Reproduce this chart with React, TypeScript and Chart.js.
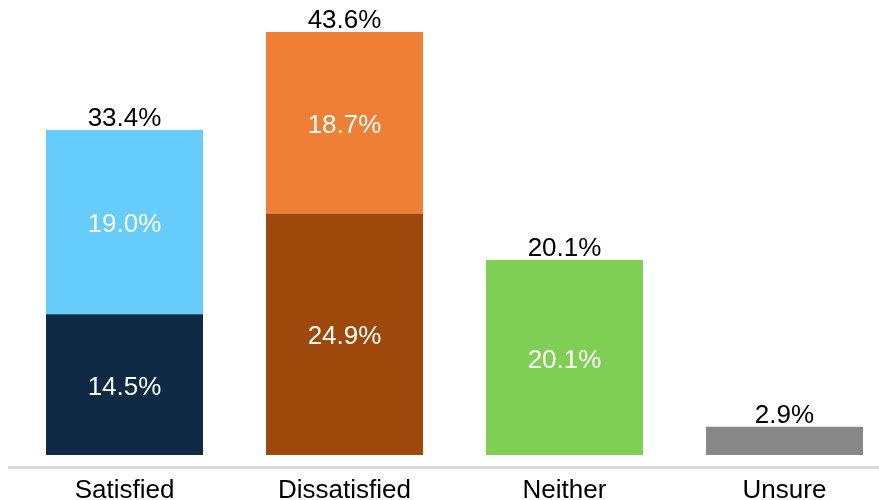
import React, { useEffect, useRef } from "react";
import { Chart, registerables } from "chart.js";

Chart.register(...registerables);

const categories = ["Satisfied", "Dissatisfied", "Neither", "Unsure"];
const lowerValues = [14.5, 24.9, 20.1, 2.9];
const upperValues: (number | null)[] = [19.0, 18.7, null, null];
const totals = [33.4, 43.6, 20.1, 2.9];
const lowerColors = ["#0e2a44", "#9e480c", "#80cf55", "#888888"];
const upperColors = ["#66ccfc", "#ee7f35", "#80cf55", "#888888"];

const FONT = "'Liberation Sans', Arial, Helvetica, sans-serif";
const FONT_SIZE = 26;

const labelPlugin = {
  id: "labels",
  afterDatasetsDraw(chart: any) {
    const ctx = chart.ctx;
    ctx.save();
    ctx.font = `${FONT_SIZE}px ${FONT}`;
    ctx.textAlign = "center";
    chart.data.datasets.forEach((ds: any, di: number) => {
      const meta = chart.getDatasetMeta(di);
      meta.data.forEach((bar: any, i: number) => {
        const v = ds.data[i];
        if (v == null || v < 5) return;
        const cy = (bar.y + bar.base) / 2;
        ctx.fillStyle = "#ffffff";
        ctx.textBaseline = "middle";
        ctx.fillText(`${v.toFixed(1)}%`, bar.x, cy + 3);
      });
    });
    const topMeta = chart.getDatasetMeta(1);
    const lowMeta = chart.getDatasetMeta(0);
    totals.forEach((t, i) => {
      const upper = upperValues[i];
      const bar = upper != null ? topMeta.data[i] : lowMeta.data[i];
      ctx.fillStyle = "#000000";
      ctx.textBaseline = "alphabetic";
      ctx.fillText(`${t.toFixed(1)}%`, bar.x, bar.y - 4);
    });
    ctx.restore();
  },
};

const axisLinePlugin = {
  id: "axisLine",
  beforeDatasetsDraw(chart: any) {
    const ctx = chart.ctx;
    const y = chart.chartArea.bottom;
    ctx.save();
    ctx.strokeStyle = "#dcdcdc";
    ctx.lineWidth = 3;
    ctx.beginPath();
    ctx.moveTo(0, y);
    ctx.lineTo(chart.width, y);
    ctx.stroke();
    ctx.restore();
  },
};

export default function App() {
  const ref = useRef<HTMLCanvasElement | null>(null);
  useEffect(() => {
    if (!ref.current) return;
    const chart = new Chart(ref.current, {
      type: "bar",
      data: {
        labels: categories,
        datasets: [
          {
            label: "Lower",
            data: lowerValues,
            backgroundColor: lowerColors,
            borderWidth: 0,
          },
          {
            label: "Upper",
            data: upperValues,
            backgroundColor: upperColors,
            borderWidth: 0,
          },
        ],
      },
      options: {
        responsive: false,
        animation: false,
        maintainAspectRatio: false,
        layout: { padding: { left: 6.5, right: 13.5, top: 0, bottom: 0 } },
        plugins: {
          legend: { display: false },
          tooltip: { enabled: false },
        },
        datasets: {
          bar: { categoryPercentage: 1, barPercentage: 157 / 220 },
        },
        scales: {
          x: {
            stacked: true,
            grid: { display: false, drawTicks: false },
            border: { display: false },
            ticks: {
              color: "#000000",
              font: { family: FONT, size: FONT_SIZE },
              padding: 8,
              maxRotation: 0,
            },
            afterFit: (s: any) => {
              s.height = 32.4;
            },
          },
          y: {
            stacked: true,
            display: false,
            min: -1.3,
            max: 46.07,
          },
        },
      },
      plugins: [axisLinePlugin, labelPlugin],
    });
    return () => chart.destroy();
  }, []);
  return (
    <div
      style={{
        position: "fixed",
        left: 8,
        top: 8,
        width: 871,
        height: 492,
        overflow: "hidden",
      }}
    >
      <canvas ref={ref} width={900} height={492} style={{ display: "block" }} />
    </div>
  );
}
